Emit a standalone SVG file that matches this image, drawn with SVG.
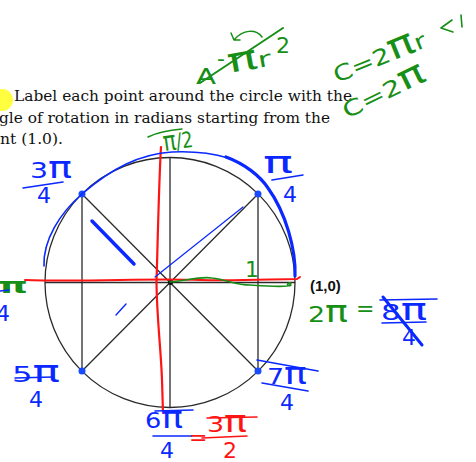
<svg xmlns="http://www.w3.org/2000/svg" width="476" height="462" viewBox="0 0 476 462">
<style>
.ser{font-family:"DejaVu Serif","Liberation Serif",serif;font-size:15px;fill:#111}
.hw{font-family:"DejaVu Sans","Liberation Sans",sans-serif;font-size:22px}
.p{font-size:31px}
.b{fill:#0a28ff}
.g{fill:#178f17}
.r{fill:#ff1414}
.sb{stroke:#0a28ff;fill:none;stroke-linecap:round;stroke-linejoin:round}
.sg{stroke:#178f17;fill:none;stroke-linecap:round;stroke-linejoin:round}
.sr{stroke:#ff1414;fill:none;stroke-linecap:round;stroke-linejoin:round}
.k{stroke:#2a2a2a;fill:none;stroke-width:1.3}
</style>
<rect width="476" height="462" fill="#fff"/>
<!-- yellow highlight bullet -->
<circle cx="2" cy="100" r="11" fill="#ffff40"/>
<!-- printed question -->
<text class="ser" x="14" y="101" textLength="338" lengthAdjust="spacingAndGlyphs">Label each point around the circle with the</text>
<text class="ser" x="-1" y="123" textLength="331" lengthAdjust="spacingAndGlyphs">gle of rotation in radians starting from the</text>
<text class="ser" x="0" y="144" textLength="63" lengthAdjust="spacingAndGlyphs">nt (1.0).</text>

<!-- unit circle figure -->
<g id="figure">
<circle class="k" cx="170" cy="282.5" r="125" stroke-width="1.6"/>
<line class="k" x1="45" y1="282.5" x2="295" y2="282.5"/>
<line class="k" x1="170" y1="157.5" x2="170" y2="407.5"/>
<line class="k" x1="82" y1="194" x2="82" y2="371"/>
<line class="k" x1="258" y1="194" x2="258" y2="371"/>
<line class="k" x1="82" y1="194" x2="258" y2="371"/>
<line class="k" x1="258" y1="194" x2="82" y2="371"/>
<circle cx="170.5" cy="282.5" r="2.5" fill="#111"/>
<circle cx="82" cy="194" r="3.5" fill="#1a4cff"/>
<circle cx="258" cy="194" r="3.5" fill="#1a4cff"/>
<circle cx="82" cy="371" r="3.5" fill="#1a4cff"/>
<circle cx="258" cy="371" r="3.5" fill="#1a4cff"/>
</g>

<!-- handwritten strokes -->
<g id="strokes">
<path class="sr" stroke-width="2" d="M25,280 C90,282 150,278 200,280 C240,281 275,279 297,279 L300,277"/>
<path class="sr" stroke-width="2.2" d="M161,147 C159,180 158,230 156.5,283 C157,320 161,350 162,380 L163,413"/>
<path class="sb" stroke-width="1.6" d="M44,266 C43,240 60,213 82,194 C112,168 140,154 172,152 C195,151 215,154 228,158"/>
<path class="sb" stroke-width="3.2" d="M226,157 C245,164 260,176 268,188 C286,213 296,250 295,276"/>
<path class="sb" stroke-width="3.5" d="M92,221 L134,264"/>
<path class="sb" stroke-width="1.2" d="M155,277 L243,207"/>
<path class="sb" stroke-width="1.4" d="M116,315 L126,304"/>
<path class="sg" stroke-width="1.6" d="M170,282 C185,281 200,276 212,278 C228,280 236,285 250,285 C265,286 278,287 287,286 C291,285 292,282 289,283 C286,284 288,287 291,285"/>
<path class="sg" stroke-width="1.5" d="M148,137 C158,132 170,130 182,129"/>
<path class="sg" stroke-width="2" d="M200,83 L283,28"/>
<path class="sg" stroke-width="1.5" d="M262,37 C256,29 243,29 234,40 M234,40 L231,33 M234,40 L240,40"/>
<path class="sg" stroke-width="1.6" d="M452,20 L441,28 L453,32 M461,15 L462,27"/>
</g>

<!-- labels -->
<g id="labels">
<text class="hw g" x="163" y="150" font-size="20" textLength="30" lengthAdjust="spacingAndGlyphs" transform="rotate(-8 170 142)"><tspan font-size="27">π</tspan>/2</text>

<text class="hw b" x="30" y="178" textLength="42" lengthAdjust="spacingAndGlyphs">3<tspan class="p">π</tspan></text>
<path class="sb" stroke-width="1.6" d="M23,188 L63,182"/>
<text class="hw b" x="37" y="203">4</text>

<text class="hw b p" x="263" y="173" textLength="30" lengthAdjust="spacingAndGlyphs">π</text>
<path class="sb" stroke-width="1.6" d="M272,180 L303,175"/>
<text class="hw b" x="283" y="202">4</text>

<text class="hw g" x="-2" y="293" font-size="36" font-weight="bold" textLength="30" lengthAdjust="spacingAndGlyphs">π</text>
<path class="sb" stroke-width="1.5" d="M0,291 L9,290"/>
<text class="hw b" x="-4" y="321" font-size="24">4</text>

<text class="hw b" x="12" y="382" textLength="48" lengthAdjust="spacingAndGlyphs">5<tspan class="p">π</tspan></text>
<path class="sb" stroke-width="1.5" d="M15,378 L53,377"/>
<text class="hw b" x="29" y="407">4</text>

<path class="sb" stroke-width="1.6" d="M257,360 L318,371"/>
<text class="hw b" x="267" y="384" textLength="40" lengthAdjust="spacingAndGlyphs">7<tspan class="p">π</tspan></text>
<path class="sb" stroke-width="1.6" d="M262,383 L308,391"/>
<text class="hw b" x="280" y="410">4</text>

<path class="sb" stroke-width="1.6" d="M155,411 L193,410"/>
<text class="hw b" x="145" y="428" font-size="24" textLength="38" lengthAdjust="spacingAndGlyphs">6<tspan class="p">π</tspan></text>
<path class="sb" stroke-width="1.6" d="M153,436 L192,436"/>
<text class="hw b" x="160" y="458">4</text>

<text class="hw r" x="189" y="445" font-size="12">=</text>
<path class="sr" stroke-width="1.6" d="M207,418 L257,417"/>
<text class="hw r" x="207" y="432" textLength="40" lengthAdjust="spacingAndGlyphs">3<tspan class="p">π</tspan></text>
<path class="sr" stroke-width="1.6" d="M202,438 L247,436"/>
<text class="hw r" x="223" y="458" font-size="15">2</text>

<text x="310" y="291" font-family="Liberation Sans,Arial,sans-serif" font-weight="bold" font-size="15" fill="#111">(1,0)</text>

<text class="hw g" x="308" y="322" font-size="24" textLength="40" lengthAdjust="spacingAndGlyphs">2<tspan class="p">π</tspan></text>
<text class="hw g" x="356" y="316" font-size="20">=</text>
<path class="sb" stroke-width="1.6" d="M380,300 L437,299"/>
<text class="hw b" x="381" y="320" font-size="24" textLength="46" lengthAdjust="spacingAndGlyphs">8<tspan class="p">π</tspan></text>
<path class="sb" stroke-width="1.6" d="M382,323 L426,322"/>
<text class="hw b" x="402" y="345">4</text>
<path class="sb" stroke-width="3" d="M383,297 L422,345"/>

<text class="hw g" x="245" y="277" font-size="16">1</text>

<text class="hw g" x="196" y="84" font-size="34" textLength="20" lengthAdjust="spacingAndGlyphs">A</text>
<text class="hw g" x="217" y="66" font-size="14">-</text>
<text class="hw g" x="229" y="73" font-size="24" textLength="44" lengthAdjust="spacingAndGlyphs" transform="rotate(-10 229 73)"><tspan font-size="34">π</tspan>r</text>
<text class="hw g" x="276" y="53" font-size="16">2</text>

<text class="hw g" x="337" y="83" font-size="28" textLength="98" lengthAdjust="spacingAndGlyphs" transform="rotate(-22 337 83)">C=2<tspan font-size="36">π</tspan>r</text>
<text class="hw g" x="347" y="119" font-size="26" textLength="90" lengthAdjust="spacingAndGlyphs" transform="rotate(-26 347 119)">C=2<tspan font-size="34">π</tspan></text>
</g>
</svg>
